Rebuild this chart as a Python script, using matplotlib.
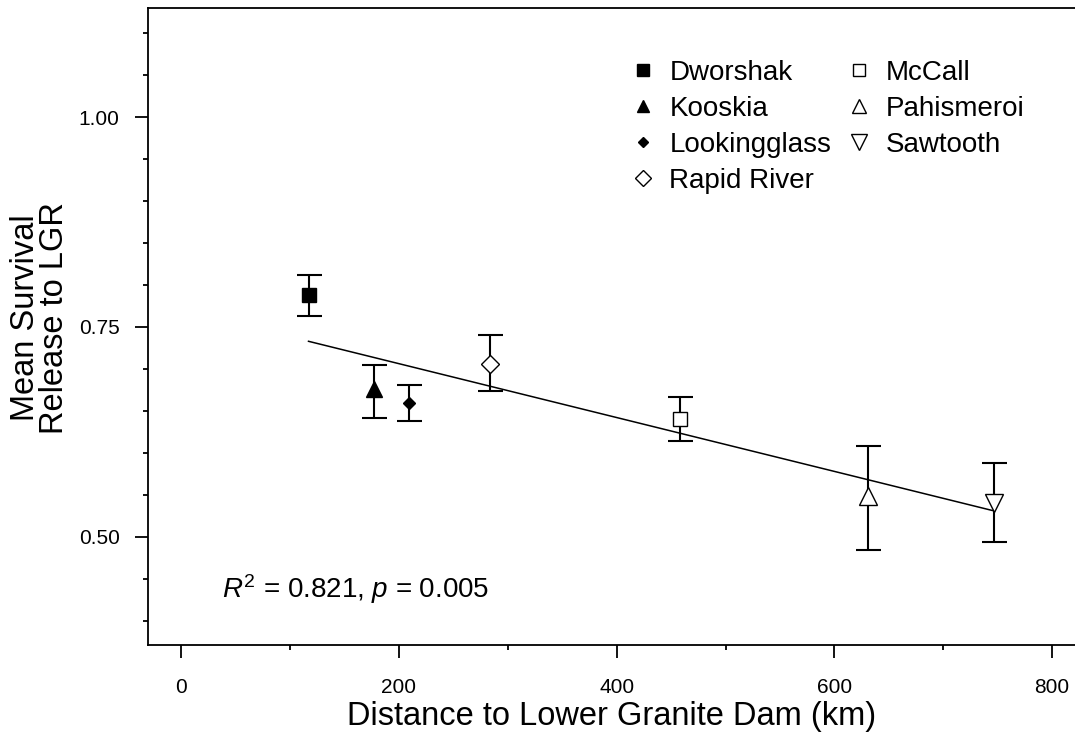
import matplotlib
matplotlib.use("Agg")
import matplotlib.pyplot as plt
from matplotlib.ticker import MultipleLocator

plt.rcParams['font.family'] = ['Liberation Sans', 'DejaVu Sans']
plt.rcParams['mathtext.fontset'] = 'custom'
plt.rcParams['mathtext.rm'] = 'Liberation Sans'
plt.rcParams['mathtext.it'] = 'Liberation Sans:italic'

# ---- data ----
sites = ["Dworshak", "Kooskia", "Lookingglass", "Rapid River",
         "McCall", "Pahismeroi", "Sawtooth"]
distance_km = [117, 177, 209, 284, 458, 631, 747]
mean_survival = [0.788, 0.676, 0.660, 0.706, 0.640, 0.549, 0.540]
ci_low = [0.763, 0.642, 0.638, 0.674, 0.614, 0.484, 0.494]
ci_high = [0.812, 0.705, 0.681, 0.740, 0.667, 0.608, 0.588]
fit_intercept = 0.7705
fit_slope = -0.000321
x_ticks = [0, 200, 400, 600, 800]
y_ticks = [0.50, 0.75, 1.00]

markers = ['s', '^', 'D', 'D', 's', '^', 'v']
filled = [True, True, True, False, False, False, False]
msizes = [10, 11, 6.5, 9.5, 10.5, 12.5, 13]

fig = plt.figure(figsize=(10.75, 7.36), dpi=100)
ax = fig.add_axes([0.1377, 0.1236, 0.8623, 0.8654])

# regression line
x0, x1 = min(distance_km), max(distance_km)
ax.plot([x0, x1], [fit_intercept + fit_slope * x0, fit_intercept + fit_slope * x1],
        color='black', lw=1.1, zorder=2)

for i, s in enumerate(sites):
    yerr = [[mean_survival[i] - ci_low[i]], [ci_high[i] - mean_survival[i]]]
    ax.errorbar([distance_km[i]], [mean_survival[i]], yerr=yerr, fmt='none',
                ecolor='black', elinewidth=1.5, capsize=9, capthick=1.5, zorder=3)
    ax.plot([distance_km[i]], [mean_survival[i]], linestyle='none',
            marker=markers[i], markersize=msizes[i],
            markerfacecolor='black' if filled[i] else 'white',
            markeredgecolor='black', markeredgewidth=1.0, label=s, zorder=4)

ax.set_xlim(-30.4, 821)
ax.set_ylim(0.371, 1.13)
ax.set_xticks(x_ticks)
ax.set_yticks(y_ticks)
ax.set_yticklabels([f"{v:.2f}" for v in y_ticks])
ax.xaxis.set_minor_locator(MultipleLocator(100))
ax.yaxis.set_minor_locator(MultipleLocator(0.05))
ax.tick_params(axis='both', which='major', length=9.4, width=1.3, labelsize=15,
               direction='out', colors='black')
ax.tick_params(axis='both', which='minor', length=3.8, width=1.3, direction='out')
ax.tick_params(axis='x', which='major', pad=14)
ax.tick_params(axis='y', which='major', pad=11)

ax.spines['right'].set_visible(False)
for sp in ['left', 'top', 'bottom']:
    ax.spines[sp].set_linewidth(1.3)

ax.set_xlabel("Distance to Lower Granite Dam (km)", fontsize=23.5, labelpad=3)
fig.text(40 / 1075, 1 - 318 / 736, "Mean Survival\nRelease to LGR", fontsize=23.5,
         rotation=90, ha='center', va='center', linespacing=0.9, multialignment='center')

ax.text(38, 0.427, r"$R^2$ = 0.821, $p$ = 0.005", fontsize=20, va='baseline')

leg = ax.legend(ncol=2, loc='upper left', bbox_to_anchor=(0.519, 0.919),
                frameon=False, fontsize=20, handletextpad=0.45, borderpad=0,
                borderaxespad=0, columnspacing=0.5, labelspacing=0.36,
                handlelength=1.0, markerscale=0.85)

fig.savefig("out.png", dpi=100)
